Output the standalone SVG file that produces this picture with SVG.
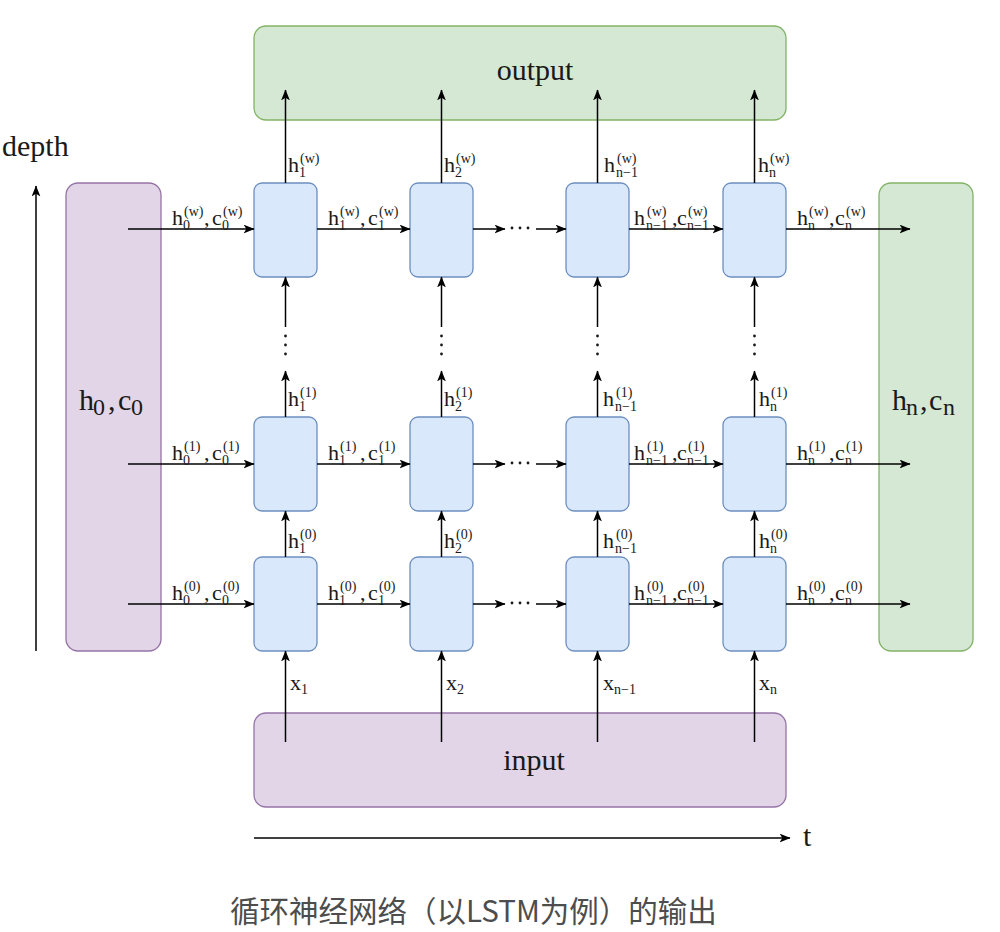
<svg xmlns="http://www.w3.org/2000/svg" width="1000" height="932" viewBox="0 0 1000 932">
<style>
.cell{fill:#dae8fc;stroke:#6c8ebf;stroke-width:1.3}
.grn{fill:#d5e8d4;stroke:#82b366;stroke-width:1.3}
.pur{fill:#e1d5e7;stroke:#9673a6;stroke-width:1.3}
.ln{fill:none;stroke:#000;stroke-width:1.5;marker-end:url(#a)}
.m{font-family:"Liberation Serif",serif;font-size:22px;fill:#1a1a1a}
.s{font-family:"Liberation Serif",serif;font-size:14px;fill:#1a1a1a}
.b{font-family:"Liberation Serif",serif;font-size:30px;fill:#1a1a1a}
.bs{font-family:"Liberation Serif",serif;font-size:24px;fill:#1a1a1a}
.cap{font-family:"Noto Sans CJK SC",sans-serif;font-size:29.5px;fill:#4d4d4d}
.dot{fill:#1a1a1a}
</style>
<defs>
<marker id="a" viewBox="0 0 10 8" refX="9.5" refY="4" markerWidth="11" markerHeight="9" orient="auto" markerUnits="userSpaceOnUse">
<path d="M0,0 L10,4 L0,8 L2.5,4 Z" fill="#000"/>
</marker>
</defs>

<g id="output"><rect class="grn" x="254" y="26" width="532" height="94" rx="12"/><text class="b" x="535" y="80" text-anchor="middle">output</text></g>
<g id="input"><rect class="pur" x="254" y="713" width="532" height="94" rx="12"/><text class="b" x="534" y="770" text-anchor="middle">input</text></g>
<g id="init"><rect class="pur" x="66" y="183" width="95" height="468" rx="12"/>
<text class="b" x="79" y="410">h</text><text class="bs" x="93" y="415">0</text><text class="b" x="108" y="410">,</text><text class="b" x="118" y="410">c</text><text class="bs" x="131" y="415">0</text></g>
<g id="final"><rect class="grn" x="879" y="183" width="94" height="468" rx="12"/>
<text class="b" x="892" y="410">h</text><text class="bs" x="906" y="415">n</text><text class="b" x="920" y="410">,</text><text class="b" x="929" y="410">c</text><text class="bs" x="943" y="415">n</text></g>

<g id="cells">
<rect class="cell" x="254" y="183" width="63" height="94" rx="8"/>
<rect class="cell" x="410" y="183" width="63" height="94" rx="8"/>
<rect class="cell" x="566" y="183" width="63" height="94" rx="8"/>
<rect class="cell" x="723" y="183" width="63" height="94" rx="8"/>
<rect class="cell" x="254" y="417" width="63" height="94" rx="8"/>
<rect class="cell" x="410" y="417" width="63" height="94" rx="8"/>
<rect class="cell" x="566" y="417" width="63" height="94" rx="8"/>
<rect class="cell" x="723" y="417" width="63" height="94" rx="8"/>
<rect class="cell" x="254" y="557" width="63" height="94" rx="8"/>
<rect class="cell" x="410" y="557" width="63" height="94" rx="8"/>
<rect class="cell" x="566" y="557" width="63" height="94" rx="8"/>
<rect class="cell" x="723" y="557" width="63" height="94" rx="8"/>
</g>

<g id="connectors">
<path class="ln" d="M128,229H254"/><path class="ln" d="M317,229H410"/><path class="ln" d="M473,229H505"/><path class="ln" d="M536,229H566"/><path class="ln" d="M629,229H723"/><path class="ln" d="M786,229H910"/>
<path class="ln" d="M128,464H254"/><path class="ln" d="M317,464H410"/><path class="ln" d="M473,464H505"/><path class="ln" d="M536,464H566"/><path class="ln" d="M629,464H723"/><path class="ln" d="M786,464H910"/>
<path class="ln" d="M128,604H254"/><path class="ln" d="M317,604H410"/><path class="ln" d="M473,604H505"/><path class="ln" d="M536,604H566"/><path class="ln" d="M629,604H723"/><path class="ln" d="M786,604H910"/>
<path class="ln" d="M285.5,183V90"/><path class="ln" d="M441.5,183V90"/><path class="ln" d="M597.5,183V90"/><path class="ln" d="M754.5,183V90"/>
<path class="ln" d="M285.5,327V277"/><path class="ln" d="M441.5,327V277"/><path class="ln" d="M597.5,327V277"/><path class="ln" d="M754.5,327V277"/>
<path class="ln" d="M285.5,417V371"/><path class="ln" d="M441.5,417V371"/><path class="ln" d="M597.5,417V371"/><path class="ln" d="M754.5,417V371"/>
<path class="ln" d="M285.5,557V511"/><path class="ln" d="M441.5,557V511"/><path class="ln" d="M597.5,557V511"/><path class="ln" d="M754.5,557V511"/>
<path class="ln" d="M285.5,742V651"/><path class="ln" d="M441.5,742V651"/><path class="ln" d="M597.5,742V651"/><path class="ln" d="M754.5,742V651"/>
<path class="ln" d="M36,651V186"/>
<path class="ln" d="M254,838H790"/>
</g>

<g id="dots">
<circle class="dot" cx="512" cy="228" r="1.4"/><circle class="dot" cx="520" cy="228" r="1.4"/><circle class="dot" cx="528" cy="228" r="1.4"/>
<circle class="dot" cx="512" cy="463" r="1.4"/><circle class="dot" cx="520" cy="463" r="1.4"/><circle class="dot" cx="528" cy="463" r="1.4"/>
<circle class="dot" cx="512" cy="603" r="1.4"/><circle class="dot" cx="520" cy="603" r="1.4"/><circle class="dot" cx="528" cy="603" r="1.4"/>
<circle class="dot" cx="285.5" cy="336" r="1.4"/><circle class="dot" cx="285.5" cy="345" r="1.4"/><circle class="dot" cx="285.5" cy="354" r="1.4"/>
<circle class="dot" cx="441.5" cy="336" r="1.4"/><circle class="dot" cx="441.5" cy="345" r="1.4"/><circle class="dot" cx="441.5" cy="354" r="1.4"/>
<circle class="dot" cx="597.5" cy="336" r="1.4"/><circle class="dot" cx="597.5" cy="345" r="1.4"/><circle class="dot" cx="597.5" cy="354" r="1.4"/>
<circle class="dot" cx="754.5" cy="336" r="1.4"/><circle class="dot" cx="754.5" cy="345" r="1.4"/><circle class="dot" cx="754.5" cy="354" r="1.4"/>
</g>

<g id="axis-labels">
<text class="b" x="2" y="156">depth</text>
<text class="b" x="803" y="846">t</text>
</g>

<g id="h-labels">
<!-- row w -->
<g transform="translate(172,225)"><text class="m">h</text><text class="s" x="11" y="5">0</text><text class="s" x="12" y="-9">(w)</text><text class="m" x="32">,</text><text class="m" x="40">c</text><text class="s" x="50" y="5">0</text><text class="s" x="51" y="-9">(w)</text></g>
<g transform="translate(328,225)"><text class="m">h</text><text class="s" x="11" y="5">1</text><text class="s" x="12" y="-9">(w)</text><text class="m" x="32">,</text><text class="m" x="40">c</text><text class="s" x="50" y="5">1</text><text class="s" x="51" y="-9">(w)</text></g>
<g transform="translate(634,225)"><text class="m">h</text><text class="s" x="12" y="5">n−1</text><text class="s" x="13" y="-9">(w)</text><text class="m" x="38">,</text><text class="m" x="43">c</text><text class="s" x="53" y="5">n−1</text><text class="s" x="54" y="-9">(w)</text></g>
<g transform="translate(797,225)"><text class="m">h</text><text class="s" x="11" y="5">n</text><text class="s" x="12" y="-9">(w)</text><text class="m" x="32">,</text><text class="m" x="38">c</text><text class="s" x="48" y="5">n</text><text class="s" x="49" y="-9">(w)</text></g>
<!-- row 1 -->
<g transform="translate(172,460)"><text class="m">h</text><text class="s" x="11" y="5">0</text><text class="s" x="12" y="-9">(1)</text><text class="m" x="32">,</text><text class="m" x="40">c</text><text class="s" x="50" y="5">0</text><text class="s" x="51" y="-9">(1)</text></g>
<g transform="translate(328,460)"><text class="m">h</text><text class="s" x="11" y="5">1</text><text class="s" x="12" y="-9">(1)</text><text class="m" x="32">,</text><text class="m" x="40">c</text><text class="s" x="50" y="5">1</text><text class="s" x="51" y="-9">(1)</text></g>
<g transform="translate(634,460)"><text class="m">h</text><text class="s" x="12" y="5">n−1</text><text class="s" x="13" y="-9">(1)</text><text class="m" x="38">,</text><text class="m" x="43">c</text><text class="s" x="53" y="5">n−1</text><text class="s" x="54" y="-9">(1)</text></g>
<g transform="translate(797,460)"><text class="m">h</text><text class="s" x="11" y="5">n</text><text class="s" x="12" y="-9">(1)</text><text class="m" x="32">,</text><text class="m" x="38">c</text><text class="s" x="48" y="5">n</text><text class="s" x="49" y="-9">(1)</text></g>
<!-- row 0 -->
<g transform="translate(172,600)"><text class="m">h</text><text class="s" x="11" y="5">0</text><text class="s" x="12" y="-9">(0)</text><text class="m" x="32">,</text><text class="m" x="40">c</text><text class="s" x="50" y="5">0</text><text class="s" x="51" y="-9">(0)</text></g>
<g transform="translate(328,600)"><text class="m">h</text><text class="s" x="11" y="5">1</text><text class="s" x="12" y="-9">(0)</text><text class="m" x="32">,</text><text class="m" x="40">c</text><text class="s" x="50" y="5">1</text><text class="s" x="51" y="-9">(0)</text></g>
<g transform="translate(634,600)"><text class="m">h</text><text class="s" x="12" y="5">n−1</text><text class="s" x="13" y="-9">(0)</text><text class="m" x="38">,</text><text class="m" x="43">c</text><text class="s" x="53" y="5">n−1</text><text class="s" x="54" y="-9">(0)</text></g>
<g transform="translate(797,600)"><text class="m">h</text><text class="s" x="11" y="5">n</text><text class="s" x="12" y="-9">(0)</text><text class="m" x="32">,</text><text class="m" x="38">c</text><text class="s" x="48" y="5">n</text><text class="s" x="49" y="-9">(0)</text></g>
</g>

<g id="v-labels">
<g transform="translate(288,172)"><text class="m">h</text><text class="s" x="11" y="5">1</text><text class="s" x="12" y="-9">(w)</text></g>
<g transform="translate(444,172)"><text class="m">h</text><text class="s" x="11" y="5">2</text><text class="s" x="12" y="-9">(w)</text></g>
<g transform="translate(604,172)"><text class="m">h</text><text class="s" x="12" y="5">n−1</text><text class="s" x="13" y="-9">(w)</text></g>
<g transform="translate(758,172)"><text class="m">h</text><text class="s" x="11" y="5">n</text><text class="s" x="12" y="-9">(w)</text></g>
<g transform="translate(288,406)"><text class="m">h</text><text class="s" x="11" y="5">1</text><text class="s" x="12" y="-9">(1)</text></g>
<g transform="translate(444,406)"><text class="m">h</text><text class="s" x="11" y="5">2</text><text class="s" x="12" y="-9">(1)</text></g>
<g transform="translate(603,406)"><text class="m">h</text><text class="s" x="12" y="5">n−1</text><text class="s" x="13" y="-9">(1)</text></g>
<g transform="translate(759,406)"><text class="m">h</text><text class="s" x="11" y="5">n</text><text class="s" x="12" y="-9">(1)</text></g>
<g transform="translate(288,548)"><text class="m">h</text><text class="s" x="11" y="5">1</text><text class="s" x="12" y="-9">(0)</text></g>
<g transform="translate(444,548)"><text class="m">h</text><text class="s" x="11" y="5">2</text><text class="s" x="12" y="-9">(0)</text></g>
<g transform="translate(603,548)"><text class="m">h</text><text class="s" x="12" y="5">n−1</text><text class="s" x="13" y="-9">(0)</text></g>
<g transform="translate(759,548)"><text class="m">h</text><text class="s" x="11" y="5">n</text><text class="s" x="12" y="-9">(0)</text></g>
</g>

<g id="x-labels">
<g transform="translate(290,690)"><text class="m">x</text><text class="s" x="11" y="4">1</text></g>
<g transform="translate(446,690)"><text class="m">x</text><text class="s" x="11" y="4">2</text></g>
<g transform="translate(603,690)"><text class="m">x</text><text class="s" x="11" y="4">n−1</text></g>
<g transform="translate(759,690)"><text class="m">x</text><text class="s" x="11" y="4">n</text></g>
</g>

<text class="cap" x="230" y="922">循环神经网络（以LSTM为例）的输出</text>
</svg>
